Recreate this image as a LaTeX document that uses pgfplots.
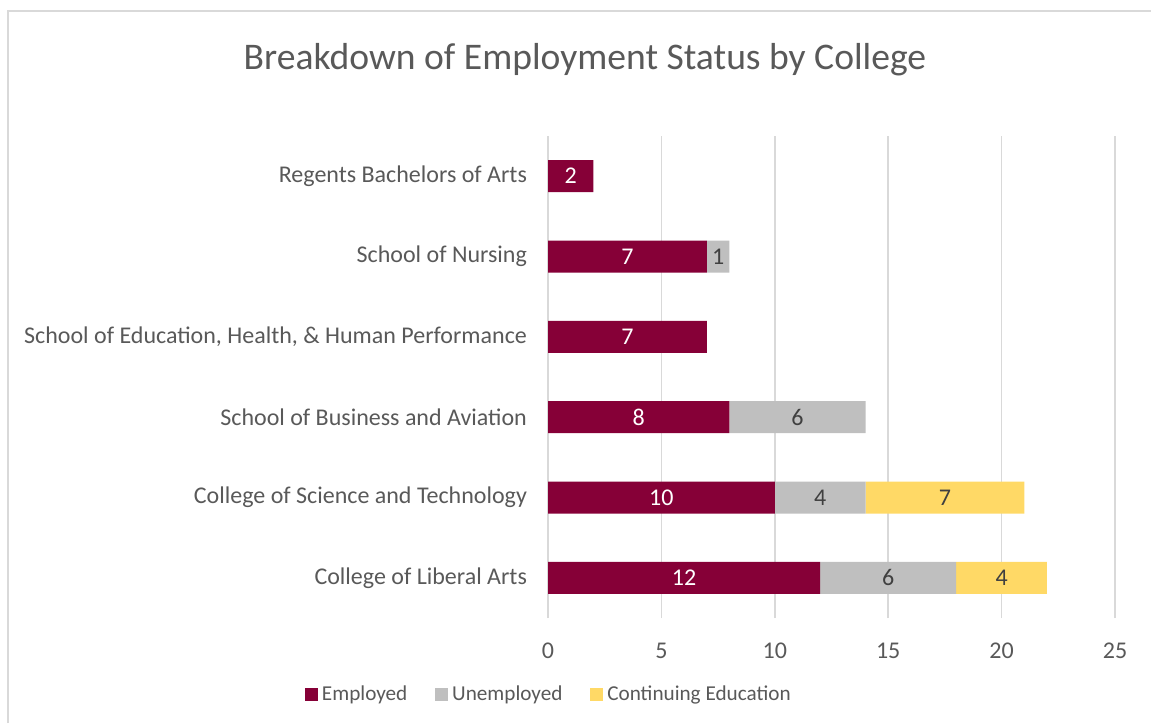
\documentclass[border=0pt]{standalone}
\usepackage{pgfplots}
\pgfplotsset{compat=1.18}
\usepackage{fontspec}
\setmainfont{Carlito}
\definecolor{emp}{HTML}{860037}
\definecolor{unemp}{HTML}{BFBFBF}
\definecolor{cont}{HTML}{FFD966}
\definecolor{txt}{HTML}{595959}
\definecolor{lbl}{HTML}{404040}
\definecolor{gridc}{HTML}{D9D9D9}
\newcommand{\lf}{\fontsize{12}{14}\selectfont}
\begin{document}
\begin{tikzpicture}
\useasboundingbox (0,0) rectangle (575.5pt,361.5pt);
\draw[gridc, line width=0.75pt] (4pt,0pt) -- (4pt,356pt) -- (575.5pt,356pt);
\node[txt, anchor=base, font=\fontsize{18.8}{22}\selectfont] at (292.5pt,326.5pt) {Breakdown of Employment Status by College};
\begin{axis}[
  at={(274pt,52.5pt)}, anchor=south west,
  width=283.5pt, height=241pt, scale only axis,
  xbar stacked, bar width=16pt,
  xmin=0, xmax=25, ymin=-0.5, ymax=5.5,
  xtick={0,5,...,25}, ytick={0,...,5},
  yticklabels={College of Liberal Arts, College of Science and Technology, School of Business and Aviation, {School of Education, Health, \& Human Performance}, School of Nursing, Regents Bachelors of Arts},
  xmajorgrids, ymajorgrids=false, grid style={gridc, line width=0.75pt},
  axis line style={draw=none}, major tick length=0pt,
  tick label style={txt, font=\lf},
  yticklabel style={xshift=-7pt},
  xticklabel style={yshift=-9pt},
  /pgf/number format/assume math mode=true,
  legend columns=3,
  legend style={draw=none, at={(0.0035,-0.158)}, anchor=center, font=\fontsize{10.6}{13}\selectfont, text=txt,
    /tikz/every even column/.append style={column sep=12pt}},
  legend image code/.code={\fill[#1] (0pt,-3.2pt) rectangle (6.4pt,3.2pt);},
]
\addplot[fill=emp, draw=none] coordinates {(12,0) (10,1) (8,2) (7,3) (7,4) (2,5)};
\addlegendentry{Employed}
\addplot[fill=unemp, draw=none] coordinates {(6,0) (4,1) (6,2) (0,3) (1,4) (0,5)};
\addlegendentry{Unemployed}
\addplot[fill=cont, draw=none] coordinates {(4,0) (7,1) (0,2) (0,3) (0,4) (0,5)};
\addlegendentry{Continuing Education}
\end{axis}
\begin{axis}[
  at={(274pt,52.5pt)}, anchor=south west,
  width=283.5pt, height=241pt, scale only axis,
  xmin=0, xmax=25, ymin=-0.5, ymax=5.5, hide axis,
]
\addplot[draw=none, nodes near coords, point meta=explicit symbolic,
  every node near coord/.style={anchor=center, white, font=\lf}]
  coordinates {(6,0) [12] (5,1) [10] (4,2) [8] (3.5,3) [7] (3.5,4) [7] (1,5) [2]};
\addplot[draw=none, nodes near coords, point meta=explicit symbolic,
  every node near coord/.style={anchor=center, lbl, font=\lf}]
  coordinates {(15,0) [6] (12,1) [4] (11,2) [6] (7.5,4) [1] (20,0) [4] (17.5,1) [7]};
\end{axis}
\end{tikzpicture}
\end{document}
